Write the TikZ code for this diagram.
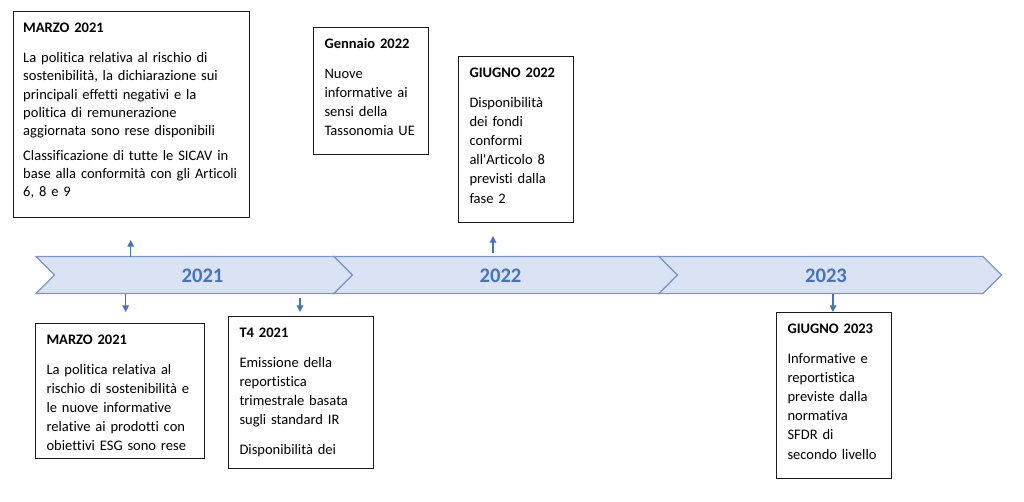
\documentclass[tikz,border=0pt]{standalone}
\usepackage{fontspec}
\setmainfont{Carlito}[Ligatures=NoCommon]
\usetikzlibrary{arrows.meta}
\definecolor{chevfill}{RGB}{218,227,243}
\definecolor{chevline}{RGB}{124,150,200}
\definecolor{accblue}{RGB}{68,114,196}
\hyphenpenalty=10000
\exhyphenpenalty=10000
\begin{document}
\begin{tikzpicture}[x=0.75pt,y=-0.75pt,
        chev/.style={fill=chevfill,draw=chevline,line width=1pt},
        yearlbl/.style={text=accblue,font=\fontsize{15.5}{18}\selectfont\bfseries,inner sep=0pt},
        evbox/.style={draw=black!90,line width=0.75pt,anchor=north west,align=left,
            inner xsep=8.25pt,inner ysep=5.5pt,text height=10pt,
            font=\fontsize{10.9}{14.4}\selectfont},
        evarrow/.style={draw=accblue,line width=0.9pt,-{Triangle[width=5pt,length=5pt]}}]
        \useasboundingbox (0,0) rectangle (1024,501);
        %% chevrons
        \foreach \l/\r in {36/334,334/659,659/983}
            \draw[chev] (\l,256.5) -- (\r,256.5) -- (\r+18.5,275) -- (\r,293.5) -- (\l,293.5) -- (\l+18.5,275) -- cycle;
        \node[yearlbl] (y21) at (202.5,275.5) {2021};
        \node[yearlbl] (y22) at (500.5,275.5) {2022};
        \node[yearlbl] (y23) at (826,275.5) {2023};
        %% boxes above
        \node[evbox,text width=162.4pt,text depth=133.5pt,inner xsep=7.3pt,
            font=\fontsize{10.9}{13.65}\selectfont] (marzoA) at (13,11)
            {\textbf{MARZO 2021}\\[9.3pt]
            La politica relativa al rischio di\\
            sostenibilità, la dichiarazione sui\\
            principali effetti negativi e la\\
            politica di remunerazione\\
            aggiornata sono rese disponibili\\[5pt]
            Classificazione di tutte le SICAV in\\
            base alla conformità con gli Articoli\\
            6, 8 e 9};
        \node[evbox,text width=69.75pt,text depth=74.25pt] (gennaio) at (313,27)
            {\textbf{Gennaio 2022}\\[8pt]
            Nuove\\
            informative ai\\
            sensi della\\
            Tassonomia UE};
        \node[evbox,text width=69.75pt,text depth=103.5pt] (giugnoA) at (458,56)
            {\textbf{GIUGNO 2022}\\[8pt]
            Disponibilità\\
            dei fondi\\
            conformi\\
            all\textquotesingle Articolo 8\\
            previsti dalla\\
            fase 2};
        %% boxes below
        \node[evbox,text width=110.25pt,text depth=80.25pt] (marzoB) at (35,323)
            {\textbf{MARZO 2021}\\[8pt]
            La politica relativa al\\
            rischio di sostenibilità e\\
            le nuove informative\\
            relative ai prodotti con\\
            obiettivi ESG sono rese};
        \node[evbox,text width=92.25pt,text depth=93pt] (trim) at (228,316)
            {\textbf{T4 2021}\\[8pt]
            Emissione della\\
            reportistica\\
            trimestrale basata\\
            sugli standard IR\\[8pt]
            Disponibilità dei};
        \node[evbox,text width=69.75pt,text depth=103.5pt] (giugnoB) at (776,312)
            {\textbf{GIUGNO 2023}\\[8pt]
            Informative e\\
            reportistica\\
            previste dalla\\
            normativa\\
            SFDR di\\
            secondo livello};
        %% arrows
        \coordinate (up1s) at (130.7,256.5);  \coordinate (up1e) at (130.7,240);
        \coordinate (dn1s) at (125.7,293.5);  \coordinate (dn1e) at (125.7,312);
        \coordinate (dn2s) at (300,297.5);    \coordinate (dn2e) at (300,312);
        \coordinate (up2s) at (493,253);      \coordinate (up2e) at (493,236);
        \coordinate (dn3s) at (833,293.5);    \coordinate (dn3e) at (833,312);
        \draw[evarrow] (up1s) -- (up1e);
        \draw[evarrow] (dn1s) -- (dn1e);
        \draw[evarrow] (dn2s) -- (dn2e);
        \draw[evarrow] (up2s) -- (up2e);
        \draw[evarrow] (dn3s) -- (dn3e);
    \end{tikzpicture}
\end{document}
